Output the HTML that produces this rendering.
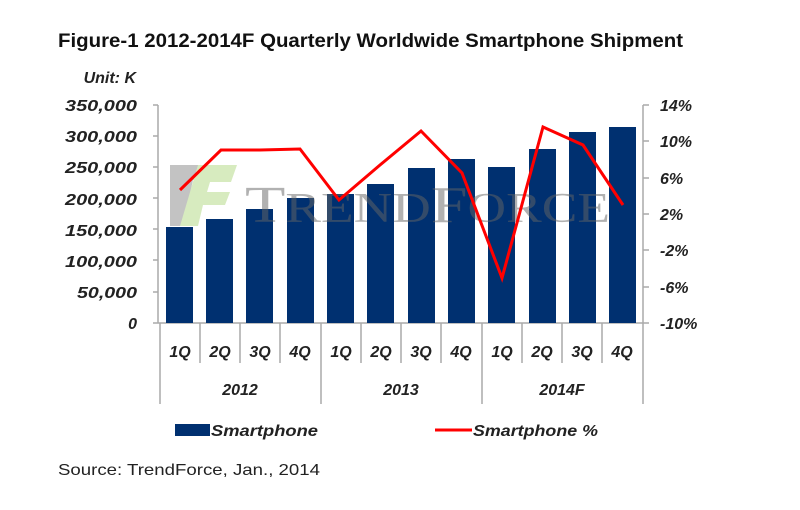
<!DOCTYPE html>
<html><head><meta charset="utf-8"><style>
html,body{margin:0;padding:0;background:#fff;}
svg{display:block;font-family:"Liberation Sans",sans-serif;}
.l{font-weight:bold;font-style:italic;font-size:16px;fill:#222;}
</style></head><body>
<svg width="800" height="510" viewBox="0 0 800 510">
<rect width="800" height="510" fill="#fff"/>
<text x="58" y="47" font-size="19" font-weight="bold" fill="#111" textLength="625" lengthAdjust="spacingAndGlyphs">Figure-1 2012-2014F Quarterly Worldwide Smartphone  Shipment</text>
<text x="136" y="83" class="l" font-size="14" text-anchor="end">Unit: K</text>
<g class="l" text-anchor="end" font-size="17">
<text x="137" y="111" textLength="72" lengthAdjust="spacingAndGlyphs">350,000</text><text x="137" y="142" textLength="72" lengthAdjust="spacingAndGlyphs">300,000</text><text x="137" y="173" textLength="72" lengthAdjust="spacingAndGlyphs">250,000</text><text x="137" y="205" textLength="72" lengthAdjust="spacingAndGlyphs">200,000</text><text x="137" y="236" textLength="72" lengthAdjust="spacingAndGlyphs">150,000</text><text x="137" y="267" textLength="72" lengthAdjust="spacingAndGlyphs">100,000</text><text x="137" y="298" textLength="60" lengthAdjust="spacingAndGlyphs">50,000</text><text x="137" y="329">0</text>
</g>
<g class="l">
<text x="660" y="111">14%</text><text x="660" y="147">10%</text><text x="660" y="184">6%</text><text x="660" y="220">2%</text><text x="660" y="256">-2%</text><text x="660" y="293">-6%</text><text x="660" y="329">-10%</text>
</g>
<g stroke="#aaa" stroke-width="1.5" fill="none">
<path d="M158 105V323M153 105H158M153 136H158M153 167H158M153 198H158M153 229H158M153 260H158M153 292H158M153 323H158"/>
<path d="M643 105V323M643 105H649M643 141H649M643 178H649M643 214H649M643 250H649M643 287H649M643 323H649"/>
<path d="M158 323H643"/>
<path d="M160 323V404M200 323V363M240 323V363M280 323V363M321 323V404M361 323V363M401 323V363M441 323V363M482 323V404M522 323V363M562 323V363M602 323V363M643 323V404"/>
</g>
<g fill="#003070">
<rect x="166" y="227" width="27" height="96"/>
<rect x="206" y="219" width="27" height="104"/>
<rect x="246" y="209" width="27" height="114"/>
<rect x="287" y="198" width="27" height="125"/>
<rect x="327" y="194" width="27" height="129"/>
<rect x="367" y="184" width="27" height="139"/>
<rect x="408" y="168" width="27" height="155"/>
<rect x="448" y="159" width="27" height="164"/>
<rect x="488" y="167" width="27" height="156"/>
<rect x="529" y="149" width="27" height="174"/>
<rect x="569" y="132" width="27" height="191"/>
<rect x="609" y="127" width="27" height="196"/>
</g>
<g opacity="0.5">
<path d="M170 165H215L208 180H193L183 226H170Z" fill="#888"/>
<path d="M198 165H237L231 182H210L207 192H230L225 205H203L198 226H180Z" fill="#b0d880"/>
<text x="245" y="222" font-family="Liberation Serif,serif" font-size="52" fill="#666" textLength="365" lengthAdjust="spacingAndGlyphs">T<tspan font-size="42">REND</tspan>F<tspan font-size="42">ORCE</tspan></text>
</g>
<polyline fill="none" stroke="#f00" stroke-width="3" stroke-linejoin="miter" points="180,190 221,150 260,150 300,149 339,200 380,165 421,131 462,173 502,278 543,127 583,145 623,205"/>
<g class="l" text-anchor="middle" font-size="17">
<text x="180" y="357">1Q</text><text x="220" y="357">2Q</text><text x="260" y="357">3Q</text><text x="300" y="357">4Q</text>
<text x="341" y="357">1Q</text><text x="381" y="357">2Q</text><text x="421" y="357">3Q</text><text x="461" y="357">4Q</text>
<text x="502" y="357">1Q</text><text x="542" y="357">2Q</text><text x="582" y="357">3Q</text><text x="622" y="357">4Q</text>
<text x="240" y="395">2012</text><text x="401" y="395">2013</text><text x="562" y="395">2014F</text>
</g>
<rect x="175" y="424" width="35" height="12" fill="#003070"/>
<text x="211" y="436" class="l" textLength="107" lengthAdjust="spacingAndGlyphs">Smartphone</text>
<line x1="435" y1="430" x2="472" y2="430" stroke="#f00" stroke-width="3"/>
<text x="473" y="436" class="l" textLength="125" lengthAdjust="spacingAndGlyphs">Smartphone %</text>
<text x="58" y="475" font-size="16" fill="#222" textLength="262" lengthAdjust="spacingAndGlyphs">Source: TrendForce, Jan., 2014</text>
</svg>
</body></html>
